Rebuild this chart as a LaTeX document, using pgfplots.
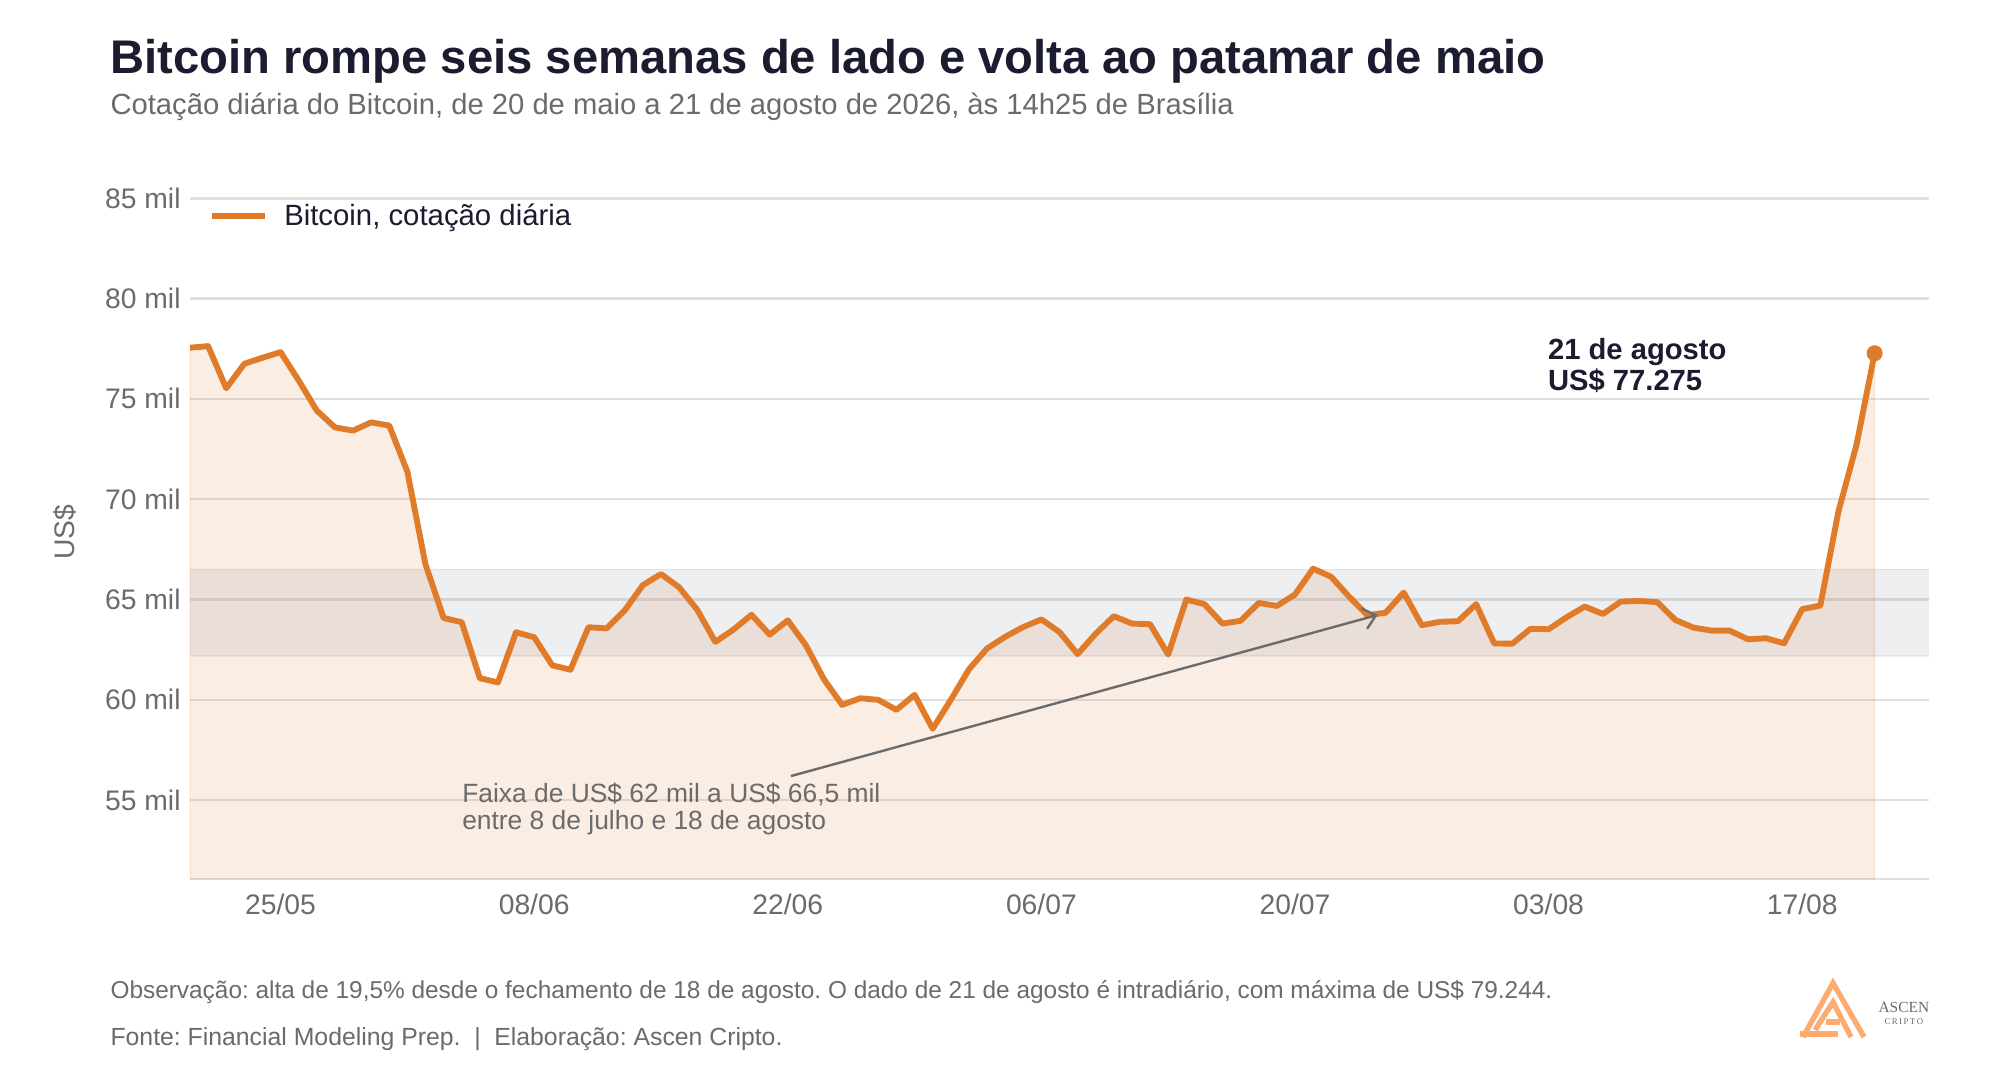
\documentclass[border=0pt]{standalone}
\usepackage{fontspec}
\setmainfont{Liberation Sans}
\newfontfamily\seriffont{Liberation Serif}
\usepackage{pgfplots}
\usepackage{pgfplotstable}
\pgfplotsset{compat=1.18}
\usetikzlibrary{arrows.meta}
\frenchspacing

\definecolor{btc}{HTML}{E07B2A}
\definecolor{ttl}{HTML}{1C1C30}
\definecolor{txt}{HTML}{6B6B6B}
\definecolor{grd}{HTML}{E0E0E0}
\definecolor{bandc}{HTML}{708090}
\definecolor{logoc}{HTML}{FFAA6E}

\pgfplotstableread{
d v
0 77.55
1 77.63
2 75.53
3 76.75
4 77.05
5 77.33
6 75.92
7 74.42
8 73.58
9 73.42
10 73.83
11 73.67
12 71.37
13 66.75
14 64.08
15 63.87
16 61.08
17 60.87
18 63.37
19 63.12
20 61.72
21 61.50
22 63.62
23 63.56
24 64.46
25 65.72
26 66.27
27 65.61
28 64.49
29 62.89
30 63.50
31 64.24
32 63.25
33 63.96
34 62.72
35 61.02
36 59.75
37 60.08
38 60.00
39 59.50
40 60.25
41 58.56
42 60.00
43 61.52
44 62.56
45 63.14
46 63.63
47 64.01
48 63.38
49 62.28
50 63.30
51 64.17
52 63.80
53 63.77
54 62.26
55 65.00
56 64.77
57 63.80
58 63.94
59 64.83
60 64.68
61 65.25
62 66.54
63 66.13
64 65.13
65 64.22
66 64.34
67 65.35
68 63.72
69 63.89
70 63.92
71 64.77
72 62.81
73 62.80
74 63.54
75 63.52
76 64.12
77 64.65
78 64.28
79 64.90
80 64.93
81 64.87
82 63.98
83 63.60
84 63.45
85 63.45
86 63.02
87 63.07
88 62.82
89 64.52
90 64.70
91 69.39
92 72.72
93 77.275
}\btcdata

\begin{document}
\begin{tikzpicture}
\begin{scope}[x=0.375pt,y=-0.375pt]
\fill[white] (0,0) rectangle (2000,1080);
\node[anchor=base west, inner sep=0pt, text=ttl, font=\fontsize{17.7}{20}\selectfont\bfseries] at (110,73) {Bitcoin rompe seis semanas de lado e volta ao patamar de maio};
\node[anchor=base west, inner sep=0pt, text=txt, font=\fontsize{10.95}{13}\selectfont] at (110,114) {Cotação diária do Bitcoin, de 20 de maio a 21 de agosto de 2026, às 14h25 de Brasília};
\node[anchor=base west, inner sep=0pt, text=txt, font=\fontsize{9.15}{11}\selectfont] at (110,998) {Observação: alta de 19,5\% desde o fechamento de 18 de agosto. O dado de 21 de agosto é intradiário, com máxima de US\$ 79.244.};
\node[anchor=base west, inner sep=0pt, text=txt, font=\fontsize{9.3}{11}\selectfont] at (110,1045) {Fonte: Financial Modeling Prep.\hspace{0.55em}|\hspace{0.55em}Elaboração: Ascen Cripto.};
% logo
\draw[logoc, line width=2pt, line join=miter] (1803,1037) -- (1833,983) -- (1864,1037);
\draw[logoc, line width=2pt] (1800,1034) -- (1838,1034);
\draw[logoc, line width=2pt, line join=miter] (1815,1030) -- (1833,1002) -- (1851,1037);
\draw[logoc, line width=2pt] (1826,1022) -- (1840,1022);
\node[anchor=base west, inner sep=0pt, text=txt, font=\seriffont\fontsize{5.8}{6}\selectfont] at (1878,1012) {ASCEN};
\node[anchor=base west, inner sep=0pt, text=txt, font=\seriffont\fontsize{3.3}{4}\selectfont] at (1884,1024) {C\,R\,I\,P\,T\,O};
\end{scope}
\begin{axis}[
  at={(71.25pt,-329.625pt)}, anchor=south west,
  scale only axis, width=652.125pt, height=260.25pt,
  xmin=0, xmax=96, ymin=51.07, ymax=85.66,
  axis lines*=left,
  x axis line style={grd, line width=0.9pt},
  y axis line style={draw=none},
  major tick length=0pt,
  xtick={5,19,33,47,61,75,89},
  xticklabels={25/05,08/06,22/06,06/07,20/07,03/08,17/08},
  ytick={55,60,65,70,75,80,85},
  yticklabels={55 mil,60 mil,65 mil,70 mil,75 mil,80 mil,85 mil},
  tick label style={font=\fontsize{10.6}{12}\selectfont, text=txt},
  xticklabel style={yshift=-2pt},
  ymajorgrids, grid style={grd, line width=0.95pt},
  ylabel={US\$},
  ylabel style={at={(axis description cs:-0.0719,0.5)}, anchor=center, font=\fontsize{10.6}{12}\selectfont, text=txt},
  clip=true,
  legend style={at={(axis description cs:0.0105,0.955)}, anchor=west, draw=none, fill=none, inner sep=0pt,
     font=\fontsize{11}{13}\selectfont, text=ttl, nodes={inner sep=0pt}},
  legend image code/.code={\draw[btc, line width=2.4pt] (0pt,0pt) -- (20pt,0pt); \path (26pt,0pt);},
  legend cell align=left,
]
\addplot[draw=btc, draw opacity=0.15, line width=0.5pt, fill=btc, fill opacity=0.13, forget plot] table[x=d,y=v] {\btcdata} \closedcycle;
\addplot[draw=bandc, draw opacity=0.12, line width=0.6pt, fill=bandc, fill opacity=0.12, forget plot] coordinates {(-1,62.2) (97,62.2) (97,66.5) (-1,66.5)} -- cycle;
\addplot[btc, line width=2.2pt, line join=round, no markers] table[x=d,y=v] {\btcdata};
\addlegendentry{Bitcoin, cotação diária}
\addplot[only marks, mark=*, mark size=2.8pt, btc, forget plot] coordinates {(93,77.275)};
\draw[txt, line width=0.9pt, -{Straight Barb[length=4.5pt,width=8pt]}] (axis cs:33.17,56.2) -- (axis cs:65.56,64.23);
\node[anchor=base west, inner sep=0pt, text=txt, font=\fontsize{9.9}{12}\selectfont, align=left] at (axis cs:15.0,54.86) {Faixa de US\$ 62 mil a US\$ 66,5 mil};
\node[anchor=base west, inner sep=0pt, text=txt, font=\fontsize{9.9}{12}\selectfont, align=left] at (axis cs:15.0,53.56) {entre 8 de julho e 18 de agosto};
\node[anchor=base west, inner sep=0pt, text=ttl, font=\fontsize{10.95}{13}\selectfont\bfseries] at (axis cs:74.94,76.94) {21 de agosto};
\node[anchor=base west, inner sep=0pt, text=ttl, font=\fontsize{10.95}{13}\selectfont\bfseries] at (axis cs:74.94,75.40) {US\$ 77.275};
\end{axis}
\end{tikzpicture}
\end{document}
